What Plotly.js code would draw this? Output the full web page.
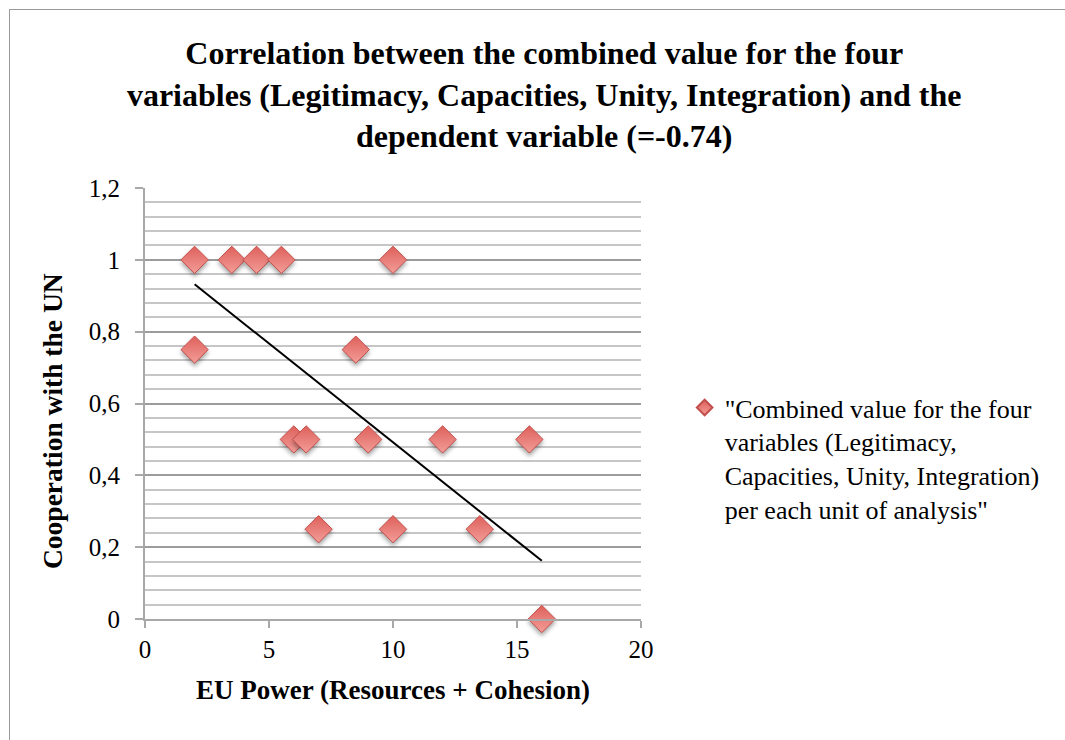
<!DOCTYPE html>
<html>
<head>
<meta charset="utf-8">
<script src="https://cdn.plot.ly/plotly-3.0.1.min.js"></script>
<style>
  html, body { margin: 0; padding: 0; background: #fff; }
  #wrap { position: relative; width: 1065px; height: 740px; overflow: hidden; }
  #frame { position: absolute; left: 9px; top: 9px; width: 1070px; height: 760px; border: 1.5px solid #9a9a9a; box-sizing: border-box; pointer-events: none; }
  #chart { position: absolute; left: 0; top: 0; width: 1065px; height: 740px; }
  .scatterlayer .trace .points path { filter: drop-shadow(0px 3px 2px rgba(0,0,0,0.35)); }
</style>
</head>
<body>
<div id="wrap">
  <div id="chart"></div>
  <div id="frame"></div>
</div>
<script>
// EU Power (Resources + Cohesion)
const euPower = [2, 3.5, 4.5, 5.5, 10, 2, 8.5, 6, 6.5, 9, 12, 15.5, 7, 10, 13.5, 16];
// Cooperation with the UN
const cooperation = [1, 1, 1, 1, 1, 0.75, 0.75, 0.5, 0.5, 0.5, 0.5, 0.5, 0.25, 0.25, 0.25, 0];
// Linear trendline end points
const trendX = [2, 16];
const trendY = [0.932, 0.162];

const seriesName = '"Combined value for the four<br>variables (Legitimacy,<br>Capacities, Unity, Integration)<br>per each unit of analysis"';
const titleText = 'Correlation between the combined value for the four<br>variables (Legitimacy, Capacities, Unity, Integration) and the<br>dependent variable (=-0.74)';
const xTitle = 'EU Power (Resources + Cohesion)';
const yTitle = 'Cooperation with the UN';

const serif = 'Liberation Serif, Times New Roman, serif';

const traces = [
  {
    x: trendX, y: trendY, mode: 'lines', type: 'scatter',
    line: { color: '#000', width: 2 }, showlegend: false, hoverinfo: 'skip'
  },
  {
    x: euPower, y: cooperation, mode: 'markers', type: 'scatter',
    name: seriesName, cliponaxis: false,
    marker: {
      symbol: 'diamond', size: 21, color: '#de605b',
      gradient: { type: 'vertical', color: '#f39d98' },
      line: { color: '#c24f4b', width: 1 }
    }
  }
];

const layout = {
  width: 1065, height: 740,
  paper_bgcolor: 'rgba(0,0,0,0)', plot_bgcolor: 'rgba(0,0,0,0)',
  separators: ',.',
  margin: { l: 145, r: 424, t: 188, b: 121 },
  font: { family: serif, color: '#000', size: 25 },
  title: {
    text: '<b>' + titleText + '</b>',
    font: { family: serif, size: 32, color: '#000' },
    xref: 'container', x: 0.511, xanchor: 'center',
    yref: 'container', y: 1 - 64/740, yanchor: 'top'
  },
  xaxis: {
    range: [0, 20], dtick: 5, tick0: 0,
    showgrid: false, zeroline: false,
    showline: true, linecolor: '#a8a8a8', linewidth: 2,
    ticks: 'outside', ticklen: 7, tickcolor: '#a8a8a8', tickwidth: 2,
    tickfont: { family: serif, size: 25, color: '#000' },
    title: { text: '<b>' + xTitle + '</b>', font: { family: serif, size: 27, color: '#000' }, standoff: 18 }
  },
  yaxis: {
    range: [0, 1.2], dtick: 0.2, tick0: 0,
    showgrid: true, gridcolor: '#9c9c9c', gridwidth: 2,
    zeroline: false,
    showline: true, linecolor: '#a8a8a8', linewidth: 2,
    ticks: 'outside', ticklen: 8, tickcolor: '#a8a8a8', tickwidth: 2,
    ticklabelstandoff: 10,
    tickfont: { family: serif, size: 25, color: '#000' },
    minor: { dtick: 0.04, showgrid: true, gridcolor: '#c6c6c6', gridwidth: 2, ticks: '' }
  },
  annotations: [{
    text: '<b>' + yTitle + '</b>', textangle: -90,
    xref: 'paper', yref: 'paper', x: -0.187, y: 0.46,
    xanchor: 'center', yanchor: 'middle', showarrow: false,
    font: { family: serif, size: 27.5, color: '#000' }
  }],
  showlegend: true,
  legend: {
    x: 1.088, xanchor: 'left', y: 0.545, yanchor: 'top',
    font: { family: serif, size: 26, color: '#000' },
    itemsizing: 'constant', valign: 'top', bgcolor: 'rgba(0,0,0,0)', tracegroupgap: 0
  }
};

Plotly.newPlot('chart', traces, layout, { displayModeBar: false, staticPlot: true });
</script>
</body>
</html>
